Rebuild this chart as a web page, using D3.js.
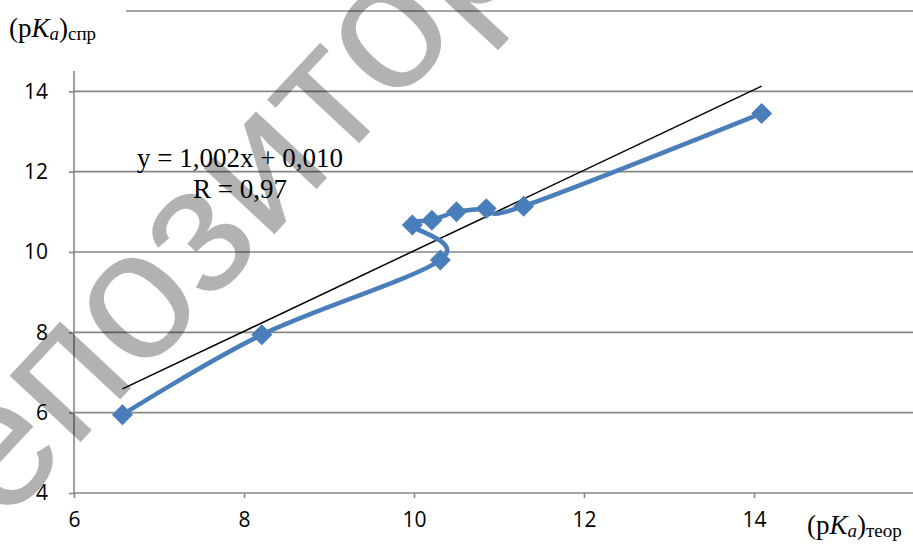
<!DOCTYPE html>
<html>
<head>
<meta charset="utf-8">
<script src="https://cdn.jsdelivr.net/npm/d3@7"></script>
<style>
  html, body { margin: 0; padding: 0; background: #fff; }
  svg { display: block; }
</style>
</head>
<body>
<div class="chart"></div>
<script>
const svgWidth = 913;
const svgHeight = 544;

// data
const pkaTheor = [6.57, 8.21, 10.31, 9.98, 10.21, 10.50, 10.85, 11.29, 14.09];
const pkaExp = [5.95, 7.94, 9.80, 10.67, 10.79, 11.00, 11.08, 11.14, 13.45];
const xTicks = [6, 8, 10, 12, 14];
const yTicks = [4, 6, 8, 10, 12, 14];
const yGrid = [6, 8, 10, 12, 14, 16];
const trendSlope = 1.002;
const trendIntercept = 0.010;
const trendText = ["y = 1,002x + 0,010", "R = 0,97"];

const points = pkaTheor.map((x, i) => ({ x: x, y: pkaExp[i] }));

const svg = d3.select(".chart")
  .append("svg")
  .attr("width", svgWidth)
  .attr("height", svgHeight);

// scales
const xScale = d3.scaleLinear().domain([6, 16]).range([74, 924]);
const yScale = d3.scaleLinear().domain([4, 16]).range([493, 11]);

const gridColor = "#878787";

// horizontal gridlines
svg.append("g")
  .selectAll("line")
  .data(yGrid)
  .enter()
  .append("line")
  .attr("x1", xScale(6))
  .attr("x2", svgWidth)
  .attr("y1", d => yScale(d))
  .attr("y2", d => yScale(d))
  .attr("stroke", gridColor)
  .attr("stroke-width", 1.6);

// y axis
const leftAxis = d3.axisLeft(yScale)
  .tickValues(yTicks)
  .tickSize(5)
  .tickPadding(21)
  .tickFormat(d3.format("d"));

const yAxis = svg.append("g")
  .attr("transform", `translate(${xScale(6)},0)`)
  .call(leftAxis);

// x axis
const bottomAxis = d3.axisBottom(xScale)
  .tickValues(xTicks)
  .tickSize(5)
  .tickPadding(14)
  .tickFormat(d3.format("d"));

const xAxis = svg.append("g")
  .attr("transform", `translate(0,${yScale(4)})`)
  .call(bottomAxis);

[xAxis, yAxis].forEach(ax => {
  ax.select(".domain").attr("stroke", gridColor).attr("stroke-width", 1.6);
  ax.selectAll(".tick line").attr("stroke", gridColor).attr("stroke-width", 1.6);
  ax.selectAll(".tick text")
    .attr("fill", "#000")
    .attr("font-family", "'Open Sans', sans-serif")
    .attr("font-size", "21px");
});
xAxis.select(".domain").attr("d", `M${xScale(6)},0H${svgWidth}`);
yAxis.select(".domain").attr("d", `M0,${yScale(4)}V71`);

function pkaLabel(x, y, sub) {
  const t = svg.append("text")
    .attr("x", x)
    .attr("y", y)
    .attr("font-family", "'Liberation Serif', 'Times New Roman', serif")
    .attr("font-size", "27px")
    .attr("fill", "#000");
  t.append("tspan").text("(p");
  t.append("tspan").attr("font-style", "italic").text("K");
  t.append("tspan").attr("font-style", "italic").attr("font-size", "19px").attr("dy", 3).text("a");
  t.append("tspan").attr("dy", -3).text(")");
  t.append("tspan").attr("font-size", "19px").attr("dy", 3).text(sub);
  return t;
}

// the y title box hides the start of the top gridline
svg.append("rect")
  .attr("x", 0)
  .attr("y", 0)
  .attr("width", 126)
  .attr("height", 71)
  .attr("fill", "#fff");

pkaLabel(9, 37, "спр");
pkaLabel(807, 534, "теор");

// watermark
svg.append("text")
  .attr("transform", "translate(-76,610) rotate(-47)")
  .attr("font-family", "'Liberation Sans', Arial, sans-serif")
  .attr("font-size", "184px")
  .attr("fill", "#000")
  .attr("fill-opacity", 0.3)
  .text("Репозиторий");

// trend line
const xMin = d3.min(pkaTheor);
const xMax = d3.max(pkaTheor);
svg.append("line")
  .attr("x1", xScale(xMin))
  .attr("y1", yScale(trendSlope * xMin + trendIntercept))
  .attr("x2", xScale(xMax))
  .attr("y2", yScale(trendSlope * xMax + trendIntercept))
  .attr("stroke", "#000")
  .attr("stroke-width", 1.5);

// smoothed series line
const line = d3.line()
  .x(d => xScale(d.x))
  .y(d => yScale(d.y))
  .curve(d3.curveCatmullRom.alpha(0));

svg.append("path")
  .datum(points)
  .attr("d", line)
  .attr("fill", "none")
  .attr("stroke", "#4a7ebb")
  .attr("stroke-width", 4.5)
  .attr("stroke-linejoin", "round");

// diamond markers
svg.append("g")
  .selectAll("path")
  .data(points)
  .enter()
  .append("path")
  .attr("transform", d => `translate(${xScale(d.x)},${yScale(d.y)}) rotate(45)`)
  .attr("d", d3.symbol(d3.symbolSquare, 220))
  .attr("fill", "#4a7ebb");

// equation label
const eq = svg.append("text")
  .attr("font-family", "'Liberation Serif', 'Times New Roman', serif")
  .attr("font-size", "27px")
  .attr("fill", "#000")
  .attr("text-anchor", "middle");

eq.selectAll("tspan")
  .data(trendText)
  .enter()
  .append("tspan")
  .attr("x", 240)
  .attr("y", (d, i) => 167 + i * 31)
  .text(d => d);
</script>
</body>
</html>
